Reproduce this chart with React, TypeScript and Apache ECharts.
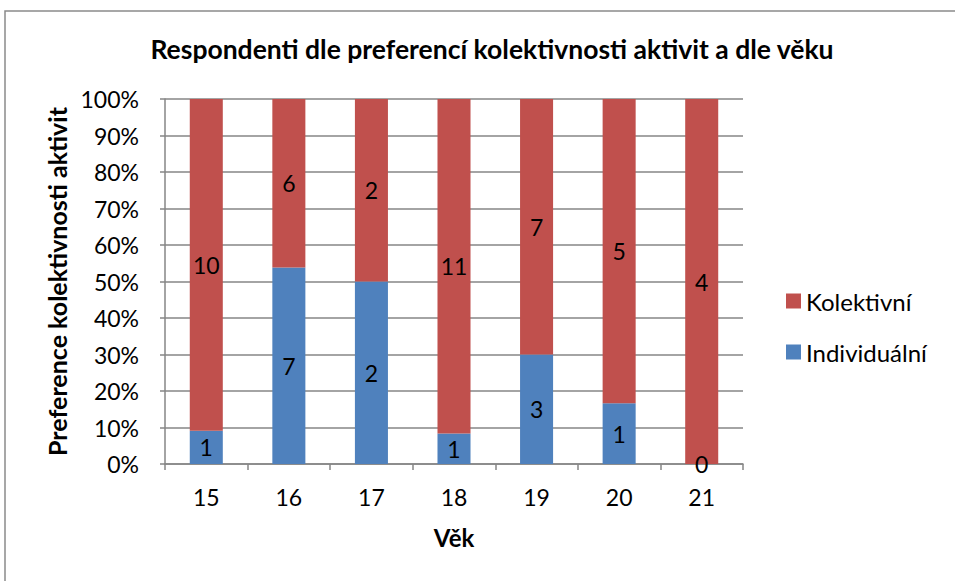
import React, { useEffect, useRef } from "react";
import * as echarts from "echarts";

const categories = ["15", "16", "17", "18", "19", "20", "21"];
const individualni = [1, 7, 2, 1, 3, 1, 0];
const kolektivni = [10, 6, 2, 11, 7, 5, 4];
const seriesNames = ["Kolektivní", "Individuální"];

const FONT = "Lato";

export default function App() {
  const ref = useRef<HTMLDivElement>(null);
  useEffect(() => {
    if (!ref.current) return;
    const chart = echarts.init(ref.current, undefined, { renderer: "svg" });
    const totals = categories.map((_, i) => individualni[i] + kolektivni[i]);
    const pctInd = individualni.map((v, i) => (v / totals[i]) * 100);
    const pctKol = kolektivni.map((v, i) => (v / totals[i]) * 100);
    const labelStyle = {
      show: true,
      position: "inside" as const,
      color: "#000",
      fontSize: 23,
      fontFamily: FONT,
    };
    chart.setOption({
      animation: false,
      backgroundColor: "#fff",
      textStyle: { fontFamily: FONT },
      title: {
        text: "Respondenti dle preferencí kolektivnosti aktivit a dle věku",
        left: 487,
        textAlign: "center",
        top: 30,
        textStyle: { fontFamily: FONT, fontWeight: "bold", fontSize: 26.5, color: "#000" },
      },
      graphic: [
        {
          type: "rect",
          shape: { x: 5, y: 11, width: 1000, height: 1000 },
          style: { fill: "none", stroke: "#8a8a8a", lineWidth: 1.5 },
          silent: true,
        },
      ],
      legend: {
        orient: "vertical",
        left: 781,
        top: 284,
        itemWidth: 15,
        itemHeight: 15,
        itemGap: 27,
        icon: "rect",
        data: seriesNames,
        textStyle: { fontFamily: FONT, fontSize: 24, color: "#000" },
      },
      grid: { left: 165, right: 212, top: 99, bottom: 117 },
      xAxis: {
        type: "category",
        data: categories,
        name: "Věk",
        nameLocation: "middle",
        nameGap: 61,
        nameTextStyle: { fontFamily: FONT, fontWeight: "bold", fontSize: 24, color: "#000" },
        axisLine: { lineStyle: { color: "#868686", width: 1.5 } },
        axisTick: { show: true, alignWithLabel: false, length: 6, lineStyle: { color: "#868686", width: 1.5 } },
        axisLabel: { color: "#000", fontSize: 23, margin: 21, fontFamily: FONT },
      },
      yAxis: {
        type: "value",
        min: 0,
        max: 100,
        interval: 10,
        name: "Preference kolektivnosti aktivit",
        nameLocation: "middle",
        nameRotate: 90,
        nameGap: 93,
        nameTextStyle: { fontFamily: FONT, fontWeight: "bold", fontSize: 25, color: "#000" },
        axisLine: { show: true, lineStyle: { color: "#868686", width: 1.5 } },
        axisTick: { show: true, length: 5, lineStyle: { color: "#868686", width: 1.5 } },
        splitLine: { show: true, lineStyle: { color: "#868686", width: 1.5 } },
        axisLabel: { color: "#000", fontSize: 23, margin: 26, fontFamily: FONT, formatter: "{value}%" },
      },
      series: [
        {
          name: "Individuální",
          type: "bar",
          stack: "total",
          barWidth: "40%",
          data: pctInd,
          itemStyle: { color: "#4F81BD" },
          label: { ...labelStyle, formatter: (p: any) => String(individualni[p.dataIndex]) },
        },
        {
          name: "Kolektivní",
          type: "bar",
          stack: "total",
          barWidth: "40%",
          data: pctKol,
          itemStyle: { color: "#C0504D" },
          label: { ...labelStyle, formatter: (p: any) => String(kolektivni[p.dataIndex]) },
        },
      ],
    });
    return () => chart.dispose();
  }, []);
  return (
    <div
      ref={ref}
      style={{ position: "absolute", left: 0, top: 0, width: 955, height: 581 }}
    />
  );
}
